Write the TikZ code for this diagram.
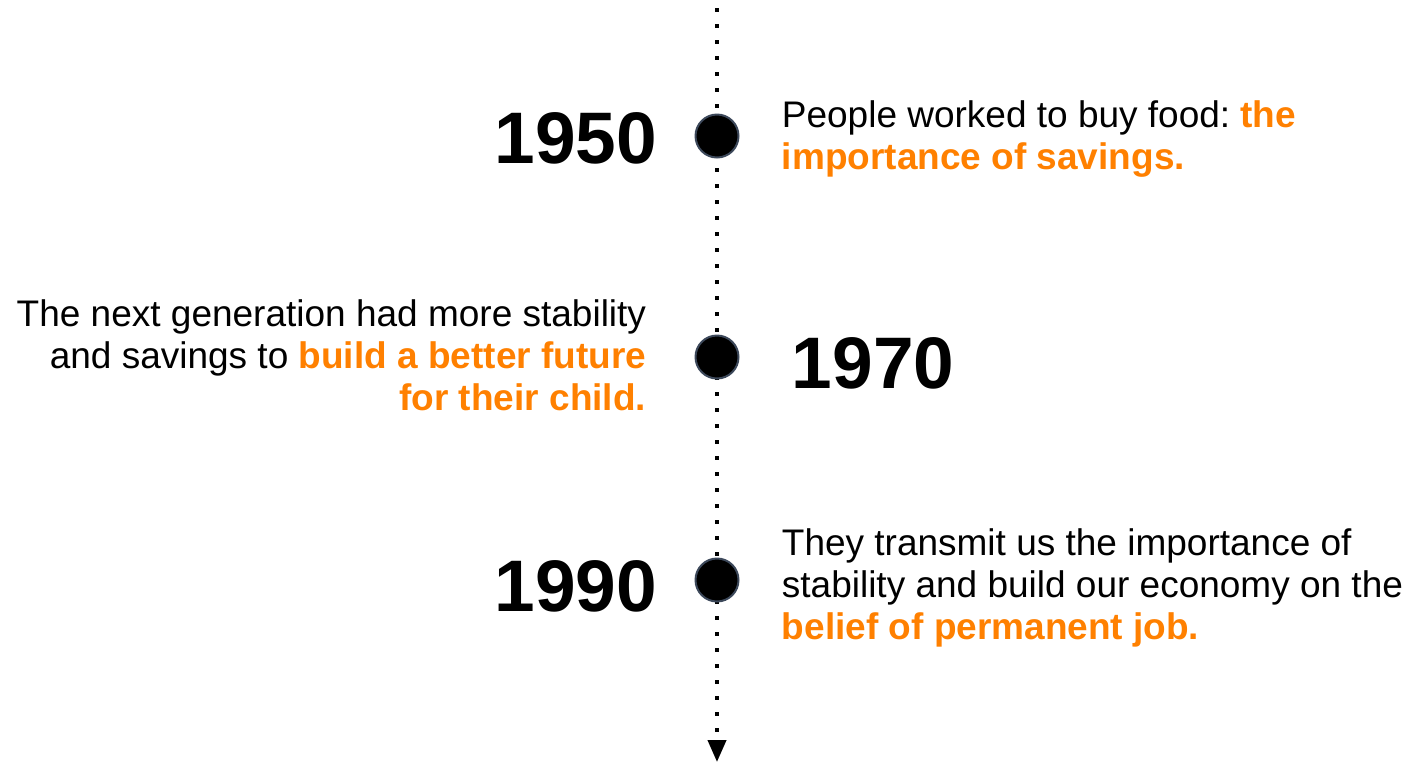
\documentclass[tikz,border=0pt]{standalone}
\usepackage{fontspec}
\setmainfont{Liberation Sans}
\frenchspacing
\usetikzlibrary{arrows.meta, positioning}
\definecolor{keyorange}{RGB}{255,128,0}
\definecolor{dotrim}{RGB}{60,72,90}

\newcommand{\hl}[1]{\textcolor{keyorange}{\textbf{#1}}}

\begin{document}
\begin{tikzpicture}[x=0.5pt, y=-0.5pt,
    dot/.style={circle, fill=black, draw=dotrim, line width=1pt, minimum size=21.5pt, inner sep=0pt},
    year/.style={font=\fontsize{36.5}{40}\selectfont\bfseries, inner sep=0pt},
    note/.style={font=\fontsize{18.5}{21}\selectfont, inner sep=0pt},
    timeline/.style={line width=2pt, dash pattern=on 2pt off 6pt, dash phase=4pt,
                     -{Triangle[width=9pt,length=11pt]}}]

\useasboundingbox (0,0) rectangle (1414,762);

% Axis
\coordinate (top) at (717,0);
\coordinate (bottom) at (717,762);
\draw [timeline] (top) -- (bottom);

% Milestones
\node (dot1950) [dot] at (717,136) {};
\node (dot1970) [dot] at (717,357) {};
\node (dot1990) [dot] at (717,580) {};

% Years
\node (y1950) [year, left=18.5pt of dot1950, yshift=-1pt] {1950};
\node (y1970) [year, right=26pt of dot1970, yshift=-3pt] {1970};
\node (y1990) [year, left=18.5pt of dot1990, yshift=-3pt] {1990};

% Notes
\node (n1950) [note, align=left, right=21pt of dot1950, yshift=-1.5pt] {People worked to buy food: \hl{the}\\\hl{importance of savings.}};
\node (n1970) [note, align=right, left=24pt of dot1970, yshift=1pt] {The next generation had more stability\\and savings to \hl{build a better future}\\\hl{for their child.}};
\node (n1990) [note, align=left, right=21pt of dot1990, yshift=-4pt] {They transmit us the importance of\\stability and build our economy on the\\\hl{belief of permanent job.}};
\end{tikzpicture}
\end{document}
